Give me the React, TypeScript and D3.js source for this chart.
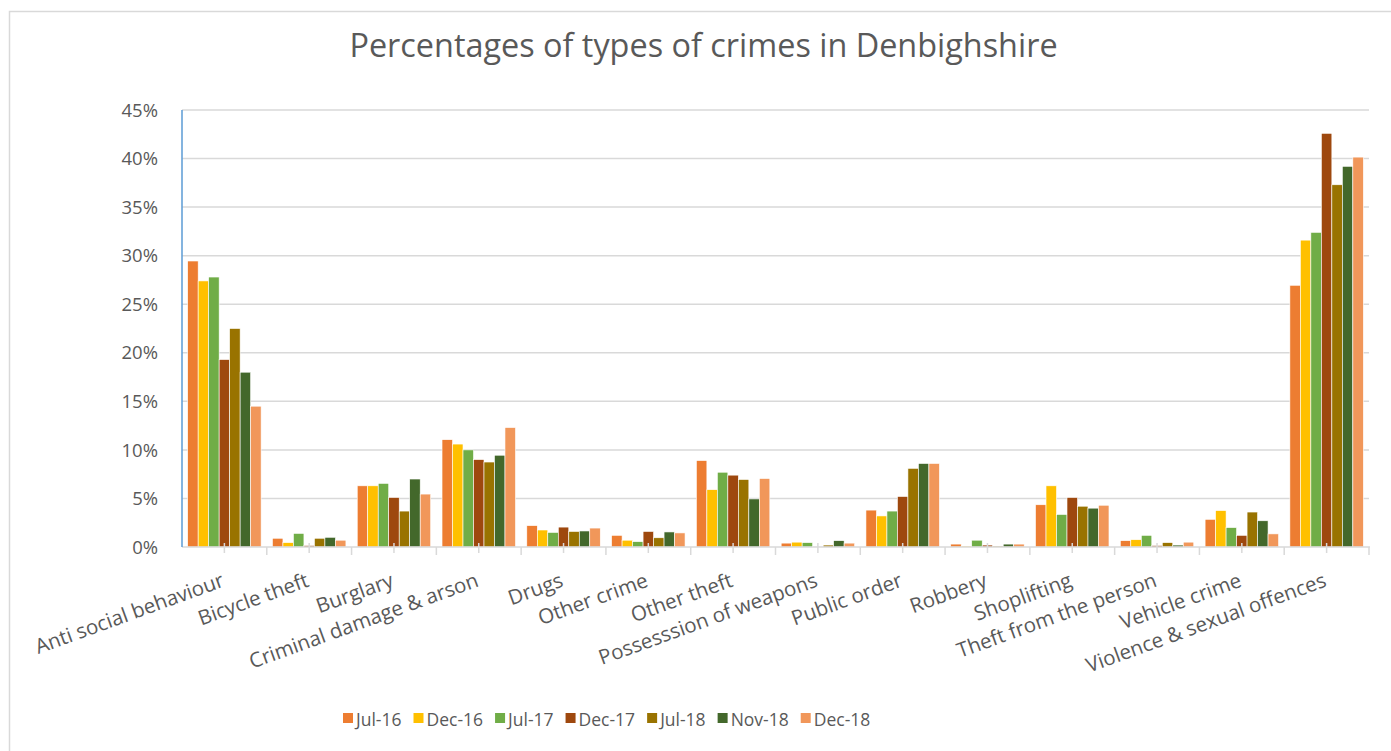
import React, { useEffect, useRef } from "react";
import * as d3 from "d3";

const categories = [
  "Anti social behaviour",
  "Bicycle theft",
  "Burglary",
  "Criminal damage & arson",
  "Drugs",
  "Other crime",
  "Other theft",
  "Possesssion of weapons",
  "Public order",
  "Robbery",
  "Shoplifting",
  "Theft from the person",
  "Vehicle crime",
  "Violence & sexual offences",
];

const seriesNames = ["Jul-16", "Dec-16", "Jul-17", "Dec-17", "Jul-18", "Nov-18", "Dec-18"];
const seriesColors = ["#ED7D31", "#FFC000", "#70AD47", "#9E480E", "#997300", "#43682B", "#F1975A"];

const jul16 = [29.45, 0.9, 6.3, 11.05, 2.2, 1.2, 8.9, 0.4, 3.8, 0.3, 4.35, 0.65, 2.85, 26.95];
const dec16 = [27.4, 0.45, 6.3, 10.6, 1.75, 0.7, 5.9, 0.5, 3.2, 0.1, 6.3, 0.75, 3.75, 31.6];
const jul17 = [27.8, 1.4, 6.55, 10.0, 1.5, 0.55, 7.7, 0.45, 3.7, 0.7, 3.35, 1.2, 2.0, 32.4];
const dec17 = [19.3, 0.15, 5.1, 9.0, 2.05, 1.6, 7.4, 0.05, 5.2, 0.2, 5.1, 0.15, 1.2, 42.6];
const jul18 = [22.5, 0.9, 3.7, 8.75, 1.6, 0.95, 6.95, 0.2, 8.1, 0.1, 4.2, 0.45, 3.6, 37.3];
const nov18 = [18.0, 1.0, 7.0, 9.45, 1.65, 1.55, 4.95, 0.65, 8.6, 0.3, 4.0, 0.2, 2.7, 39.2];
const dec18 = [14.5, 0.7, 5.45, 12.3, 1.95, 1.45, 7.05, 0.4, 8.6, 0.3, 4.3, 0.5, 1.35, 40.15];

const seriesValues = [jul16, dec16, jul17, dec17, jul18, nov18, dec18];
const yTicks = [0, 5, 10, 15, 20, 25, 30, 35, 40, 45];
const titleText = "Percentages of types of crimes in Denbighshire";

const W = 1391;
const H = 751;
const FONT = "'Open Sans', sans-serif";
const TEXT = "#595959";

export default function App() {
  const ref = useRef<SVGSVGElement>(null);

  useEffect(() => {
    const svg = d3.select(ref.current);
    svg.selectAll("*").remove();

    const left = 182, right = 1369, top = 110, bottom = 547;

    const x = d3.scaleBand<string>().domain(categories).range([left, right]).paddingInner(0).paddingOuter(0);
    const inner = d3.scaleBand<string>().domain(seriesNames).range([0, x.bandwidth()]).paddingOuter(0.54).paddingInner(0);
    const y = d3.scaleLinear().domain([0, 45]).range([bottom, top]);

    svg.append("rect").attr("x", 0).attr("y", 0).attr("width", W).attr("height", H).attr("fill", "#fff");
    svg.append("rect").attr("x", 9.5).attr("y", 11.5).attr("width", 1500).attr("height", 1000)
      .attr("fill", "none").attr("stroke", "#D9D9D9").attr("stroke-width", 1.5);

    svg.append("text").attr("x", 703.5).attr("y", 57).attr("text-anchor", "middle")
      .attr("font-family", FONT).attr("font-size", 32.4).attr("fill", TEXT).text(titleText);

    const g = svg.append("g");
    g.selectAll("line.grid").data(yTicks.filter((t) => t > 0)).join("line")
      .attr("x1", left).attr("x2", right).attr("y1", (d) => y(d)).attr("y2", (d) => y(d))
      .attr("stroke", "#D9D9D9").attr("stroke-width", 1.5);

    g.selectAll("text.ylab").data(yTicks).join("text")
      .attr("x", 158).attr("y", (d) => y(d)).attr("dy", "0.36em").attr("text-anchor", "end")
      .attr("font-family", FONT).attr("font-size", 18.5).attr("fill", TEXT).text((d) => `${d}%`);

    seriesNames.forEach((s, si) => {
      g.selectAll(`rect.s${si}`).data(seriesValues[si]).join("rect")
        .attr("x", (_d, i) => (x(categories[i]) as number) + (inner(s) as number))
        .attr("width", inner.bandwidth())
        .attr("y", (d) => y(d))
        .attr("height", (d) => bottom - y(d))
        .attr("fill", seriesColors[si])
        .attr("stroke", "#fff").attr("stroke-width", 0.6);
    });

    g.append("line").attr("x1", left).attr("x2", right + 1).attr("y1", bottom).attr("y2", bottom)
      .attr("stroke", "#D9D9D9").attr("stroke-width", 1.5);
    const bounds = categories.map((c) => x(c) as number).concat([right]);
    g.selectAll("line.btick").data(bounds.slice(1)).join("line")
      .attr("x1", (d) => d).attr("x2", (d) => d).attr("y1", bottom).attr("y2", bottom + 8)
      .attr("stroke", "#D9D9D9").attr("stroke-width", 1.5);
    g.selectAll("line.ctick").data(categories).join("line")
      .attr("x1", (d) => (x(d) as number) + x.bandwidth() / 2)
      .attr("x2", (d) => (x(d) as number) + x.bandwidth() / 2)
      .attr("y1", bottom - 4).attr("y2", bottom + 6)
      .attr("stroke", "#D9D9D9").attr("stroke-width", 1.5);

    g.append("line").attr("x1", left).attr("x2", left).attr("y1", top).attr("y2", bottom)
      .attr("stroke", "#5B9BD5").attr("stroke-width", 1.5);

    g.selectAll("text.xlab").data(categories).join("text")
      .attr("transform", (d) => `translate(${(x(d) as number) + x.bandwidth() / 2 + 1},586) rotate(-20)`)
      .attr("text-anchor", "end")
      .attr("font-family", FONT).attr("font-size", 20.5).attr("fill", TEXT).text((d) => d);

    const lg = svg.append("g");
    const items = seriesNames.map((s, i) => {
      const t = lg.append("text").attr("y", 726).attr("font-family", FONT).attr("font-size", 17.5)
        .attr("fill", TEXT).text(s);
      const w = (t.node() as SVGTextElement).getComputedTextLength();
      return { t, w, i };
    });
    const sq = 10, gap1 = 3, gap2 = 12;
    let cx = 343;
    items.forEach((it) => {
      lg.append("rect").attr("x", cx).attr("y", 713).attr("width", sq).attr("height", sq)
        .attr("fill", seriesColors[it.i]);
      it.t.attr("x", cx + sq + gap1);
      cx += sq + gap1 + it.w + gap2;
    });
  }, []);

  return (
    <svg ref={ref} width={W} height={H} style={{ position: "absolute", left: 0, top: 0 }} />
  );
}
